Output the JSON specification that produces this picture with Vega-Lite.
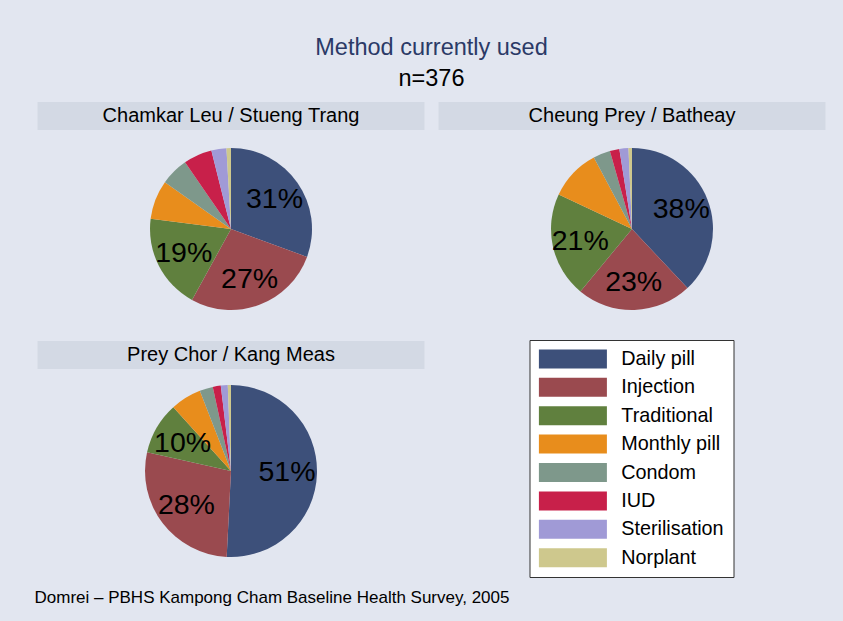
{
  "$schema": "https://vega.github.io/schema/vega-lite/v6.json",
  "background": "#E2E6F0",
  "padding": {"left": 34.5, "top": 36, "right": 17, "bottom": 20},
  "title": {
    "text": "Method currently used",
    "subtitle": "n=376",
    "fontSize": 23.5,
    "subtitleFontSize": 23.5,
    "font": "Liberation Sans",
    "subtitleFont": "Liberation Sans",
    "fontWeight": "normal",
    "color": "#2B3A67",
    "subtitleColor": "#000000",
    "anchor": "start",
    "align": "center",
    "dx": 397,
    "subtitlePadding": 7,
    "offset": 12
  },
  "datasets": {
    "pies": [
      {"region": "Chamkar Leu / Stueng Trang", "method": "Daily pill", "rank": 1, "share": 0.306},
      {"region": "Chamkar Leu / Stueng Trang", "method": "Injection", "rank": 2, "share": 0.274},
      {"region": "Chamkar Leu / Stueng Trang", "method": "Traditional", "rank": 3, "share": 0.19},
      {"region": "Chamkar Leu / Stueng Trang", "method": "Monthly pill", "rank": 4, "share": 0.078},
      {"region": "Chamkar Leu / Stueng Trang", "method": "Condom", "rank": 5, "share": 0.056},
      {"region": "Chamkar Leu / Stueng Trang", "method": "IUD", "rank": 6, "share": 0.057},
      {"region": "Chamkar Leu / Stueng Trang", "method": "Sterilisation", "rank": 7, "share": 0.03},
      {"region": "Chamkar Leu / Stueng Trang", "method": "Norplant", "rank": 8, "share": 0.009},
      {"region": "Cheung Prey / Batheay", "method": "Daily pill", "rank": 1, "share": 0.38},
      {"region": "Cheung Prey / Batheay", "method": "Injection", "rank": 2, "share": 0.23},
      {"region": "Cheung Prey / Batheay", "method": "Traditional", "rank": 3, "share": 0.21},
      {"region": "Cheung Prey / Batheay", "method": "Monthly pill", "rank": 4, "share": 0.102},
      {"region": "Cheung Prey / Batheay", "method": "Condom", "rank": 5, "share": 0.034},
      {"region": "Cheung Prey / Batheay", "method": "IUD", "rank": 6, "share": 0.019},
      {"region": "Cheung Prey / Batheay", "method": "Sterilisation", "rank": 7, "share": 0.018},
      {"region": "Cheung Prey / Batheay", "method": "Norplant", "rank": 8, "share": 0.007},
      {"region": "Prey Chor / Kang Meas", "method": "Daily pill", "rank": 1, "share": 0.508},
      {"region": "Prey Chor / Kang Meas", "method": "Injection", "rank": 2, "share": 0.277},
      {"region": "Prey Chor / Kang Meas", "method": "Traditional", "rank": 3, "share": 0.098},
      {"region": "Prey Chor / Kang Meas", "method": "Monthly pill", "rank": 4, "share": 0.058},
      {"region": "Prey Chor / Kang Meas", "method": "Condom", "rank": 5, "share": 0.025},
      {"region": "Prey Chor / Kang Meas", "method": "IUD", "rank": 6, "share": 0.015},
      {"region": "Prey Chor / Kang Meas", "method": "Sterilisation", "rank": 7, "share": 0.013},
      {"region": "Prey Chor / Kang Meas", "method": "Norplant", "rank": 8, "share": 0.006}
    ]
  },
  "spacing": 11,
  "resolve": {"legend": {"color": "independent"}},
  "vconcat": [
    {
      "hconcat": [
        {
          "vconcat": [
            {
              "data": {"values": [{"region": "Chamkar Leu / Stueng Trang"}]},
              "width": 387, "height": 28,
              "view": {"fill": "#D3D9E4", "stroke": null},
              "mark": {"type": "text", "fontSize": 20, "font": "Liberation Sans", "color": "#000000"},
              "encoding": {"text": {"field": "region"}}
            },
            {
              "data": {"name": "pies"},
              "transform": [{"filter": "datum.region === 'Chamkar Leu / Stueng Trang'"}],
              "width": 387, "height": 198,
              "encoding": {
                "theta": {"field": "share", "type": "quantitative", "stack": true},
                "order": {"field": "rank", "type": "quantitative"}
              },
              "layer": [
                {
                  "mark": {"type": "arc", "outerRadius": 81, "strokeWidth": 0},
                  "encoding": {
                    "color": {"field": "method", "type": "nominal",
                      "scale": {"domain": ["Daily pill", "Injection", "Traditional", "Monthly pill", "Condom", "IUD", "Sterilisation", "Norplant"],
                                "range": ["#3D507A", "#9A4A4F", "#60803E", "#E88D1C", "#7E988B", "#C8204A", "#A09AD6", "#CEC88D"]},
                      "legend": null}
                  }
                },
                {
                  "mark": {"type": "text", "radius": 53, "fontSize": 28.5, "font": "Liberation Sans", "color": "#000000"},
                  "encoding": {
                    "detail": {"field": "method", "type": "nominal"},
                    "text": {"condition": {"test": "datum.rank <= 3", "field": "share", "type": "quantitative", "format": ".0%"}, "value": ""}
                  }
                }
              ]
            }
          ],
          "spacing": 0,
          "resolve": {"legend": {"color": "independent"}}
        },
        {
          "vconcat": [
            {
              "data": {"values": [{"region": "Cheung Prey / Batheay"}]},
              "width": 387, "height": 28,
              "view": {"fill": "#D3D9E4", "stroke": null},
              "mark": {"type": "text", "fontSize": 20, "font": "Liberation Sans", "color": "#000000"},
              "encoding": {"text": {"field": "region"}}
            },
            {
              "data": {"name": "pies"},
              "transform": [{"filter": "datum.region === 'Cheung Prey / Batheay'"}],
              "width": 387, "height": 198,
              "encoding": {
                "theta": {"field": "share", "type": "quantitative", "stack": true},
                "order": {"field": "rank", "type": "quantitative"}
              },
              "layer": [
                {
                  "mark": {"type": "arc", "outerRadius": 81, "strokeWidth": 0},
                  "encoding": {
                    "color": {"field": "method", "type": "nominal",
                      "scale": {"domain": ["Daily pill", "Injection", "Traditional", "Monthly pill", "Condom", "IUD", "Sterilisation", "Norplant"],
                                "range": ["#3D507A", "#9A4A4F", "#60803E", "#E88D1C", "#7E988B", "#C8204A", "#A09AD6", "#CEC88D"]},
                      "legend": null}
                  }
                },
                {
                  "mark": {"type": "text", "radius": 53, "fontSize": 28.5, "font": "Liberation Sans", "color": "#000000"},
                  "encoding": {
                    "detail": {"field": "method", "type": "nominal"},
                    "text": {"condition": {"test": "datum.rank <= 3", "field": "share", "type": "quantitative", "format": ".0%"}, "value": ""}
                  }
                }
              ]
            }
          ],
          "spacing": 0,
          "resolve": {"legend": {"color": "independent"}}
        }
      ],
      "spacing": 14,
      "resolve": {"legend": {"color": "independent"}}
    },
    {
      "hconcat": [
        {
          "vconcat": [
            {
              "data": {"values": [{"region": "Prey Chor / Kang Meas"}]},
              "width": 387, "height": 28,
              "view": {"fill": "#D3D9E4", "stroke": null},
              "mark": {"type": "text", "fontSize": 20, "font": "Liberation Sans", "color": "#000000"},
              "encoding": {"text": {"field": "region"}}
            },
            {
              "data": {"name": "pies"},
              "transform": [{"filter": "datum.region === 'Prey Chor / Kang Meas'"}],
              "width": 387, "height": 204,
              "encoding": {
                "theta": {"field": "share", "type": "quantitative", "stack": true},
                "order": {"field": "rank", "type": "quantitative"}
              },
              "layer": [
                {
                  "mark": {"type": "arc", "outerRadius": 86, "strokeWidth": 0},
                  "encoding": {
                    "color": {"field": "method", "type": "nominal",
                      "scale": {"domain": ["Daily pill", "Injection", "Traditional", "Monthly pill", "Condom", "IUD", "Sterilisation", "Norplant"],
                                "range": ["#3D507A", "#9A4A4F", "#60803E", "#E88D1C", "#7E988B", "#C8204A", "#A09AD6", "#CEC88D"]},
                      "legend": {
                        "orient": "none", "legendX": 492, "legendY": -29,
                        "title": null,
                        "symbolType": "M-1,-1H6.158V1H-1Z",
                        "symbolSize": 361,
                        "symbolStrokeWidth": 0,
                        "symbolOpacity": 1,
                        "labelFontSize": 19.8,
                        "labelFont": "Liberation Sans",
                        "labelColor": "#000000",
                        "labelOffset": 63,
                        "rowPadding": 7.4,
                        "padding": 9,
                        "fillColor": "#FFFFFF",
                        "strokeColor": "#333333"
                      }}
                  }
                },
                {
                  "mark": {"type": "text", "radius": 56, "fontSize": 28.5, "font": "Liberation Sans", "color": "#000000"},
                  "encoding": {
                    "detail": {"field": "method", "type": "nominal"},
                    "text": {"condition": {"test": "datum.rank <= 3", "field": "share", "type": "quantitative", "format": ".0%"}, "value": ""}
                  }
                }
              ]
            }
          ],
          "spacing": 0,
          "bounds": "flush",
          "resolve": {"legend": {"color": "independent"}}
        }
      ],
      "resolve": {"legend": {"color": "independent"}}
    },
    {
      "data": {"values": [{"note": "Domrei – PBHS Kampong Cham Baseline Health Survey, 2005"}]},
      "width": 1, "height": 14,
      "mark": {"type": "text", "align": "left", "dx": -3.5, "dy": -9, "fontSize": 17, "font": "Liberation Sans", "color": "#000000"},
      "encoding": {"text": {"field": "note"}}
    }
  ],
  "config": {
    "view": {"stroke": null},
    "font": "Liberation Sans"
  }
}
